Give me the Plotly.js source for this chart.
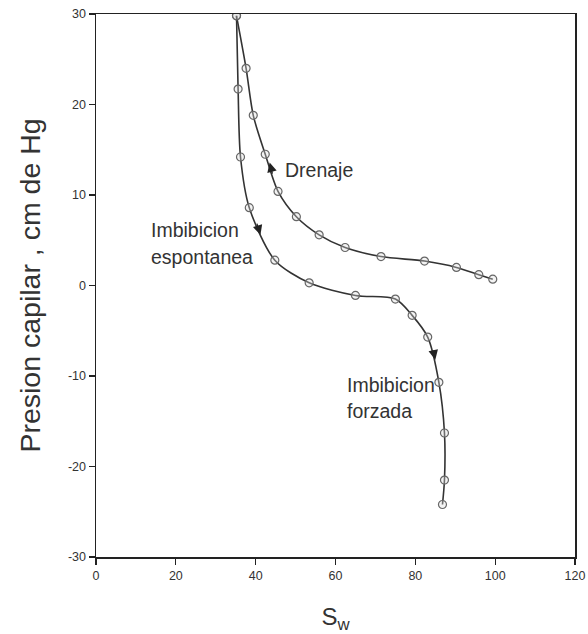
<!DOCTYPE html>
<html>
<head>
<meta charset="utf-8">
<script src="https://cdn.plot.ly/plotly-3.0.1.min.js"></script>
<style>html,body{margin:0;padding:0;background:#fff;}#chart{width:588px;height:634px;}</style>
</head>
<body>
<div id="chart"></div>
<script>
// Drenaje (drainage) curve, from top point to right end
const drenajeSw = [35.2, 37.6, 39.4, 42.4, 45.6, 50.2, 55.9, 62.4, 71.4, 82.3, 90.3, 95.9, 99.4];
const drenajePc = [29.8, 24.0, 18.8, 14.5, 10.4, 7.6, 5.6, 4.2, 3.2, 2.7, 2.0, 1.2, 0.7];

// Imbibicion (espontanea + forzada) curve, from top point downward
const imbSw = [35.2, 35.6, 36.2, 38.4, 44.8, 53.4, 65.0, 75.0, 79.2, 83.1, 85.9, 87.3, 87.3, 86.8];
const imbPc = [29.8, 21.7, 14.2, 8.6, 2.8, 0.3, -1.1, -1.5, -3.3, -5.7, -10.7, -16.3, -21.5, -24.2];

const xTicks = [0, 20, 40, 60, 80, 100, 120];
const yTicks = [-30, -20, -10, 0, 10, 20, 30];
const yTickText = ['-30', '-20', '-10', '0', '10', '20', '30'];

const lineColor = '#333333';
const markerStyle = {symbol: 'circle', size: 8, color: 'rgba(220,220,220,0.35)', line: {color: '#666666', width: 1.2}};

const traces = [
  {x: drenajeSw, y: drenajePc, type: 'scatter', mode: 'lines+markers',
   line: {color: lineColor, width: 1.6, shape: 'spline', smoothing: 0.8}, marker: markerStyle, showlegend: false},
  {x: imbSw, y: imbPc, type: 'scatter', mode: 'lines+markers',
   line: {color: lineColor, width: 1.6, shape: 'spline', smoothing: 0.8}, marker: markerStyle, showlegend: false}
];

const fam = 'Liberation Sans, Arial, sans-serif';
const txtFont = {family: fam, size: 19.5, color: '#333333'};
const arrowBase = {showarrow: true, arrowhead: 2, arrowsize: 1.6, arrowwidth: 1.2, arrowcolor: '#222222', text: '', xref: 'x', yref: 'y', axref: 'x', ayref: 'y'};

const layout = {
  width: 588, height: 634,
  margin: {l: 95.5, r: 13, t: 14, b: 77},
  paper_bgcolor: '#ffffff', plot_bgcolor: '#ffffff',
  xaxis: {
    range: [0, 120], tickvals: xTicks, ticks: 'outside', ticklen: 6, tickwidth: 1.2, tickcolor: '#222',
    showline: true, linecolor: '#222', linewidth: 1.5, mirror: true, showgrid: false, zeroline: false,
    tickfont: {family: fam, size: 12.5, color: '#333'},
    title: {text: 'S<sub>w</sub>', font: {family: fam, size: 24, color: '#333'}, standoff: 30}
  },
  yaxis: {
    range: [-30, 30], tickvals: yTicks, ticktext: yTickText, ticks: 'outside', ticklen: 6, tickwidth: 1.2, tickcolor: '#222',
    showline: true, linecolor: '#222', linewidth: 1.5, mirror: true, showgrid: false, zeroline: false,
    tickfont: {family: fam, size: 12.5, color: '#333'},
    title: {text: 'Presion capilar , cm de Hg', font: {family: fam, size: 28.5, color: '#333'}, standoff: 19}
  },
  annotations: [
    {x: 46.8, y: 12.8, text: 'Drenaje', showarrow: false, xanchor: 'left', yanchor: 'middle', font: txtFont},
    {x: 13.4, y: 6.1, text: 'Imbibicion', showarrow: false, xanchor: 'left', yanchor: 'middle', font: txtFont},
    {x: 13.4, y: 3.2, text: 'espontanea', showarrow: false, xanchor: 'left', yanchor: 'middle', font: txtFont},
    {x: 62.3, y: -11.0, text: 'Imbibicion', showarrow: false, xanchor: 'left', yanchor: 'middle', font: txtFont},
    {x: 62.3, y: -13.9, text: 'forzada', showarrow: false, xanchor: 'left', yanchor: 'middle', font: txtFont},
    Object.assign({}, arrowBase, {x: 43.5, y: 13.6, ax: 44.3, ay: 12.2}),
    Object.assign({}, arrowBase, {x: 41.2, y: 5.6, ax: 40.2, ay: 7.0}),
    Object.assign({}, arrowBase, {x: 85.0, y: -8.2, ax: 84.4, ay: -7.0})
  ]
};

Plotly.newPlot('chart', traces, layout, {displayModeBar: false, staticPlot: true});
</script>
</body>
</html>
